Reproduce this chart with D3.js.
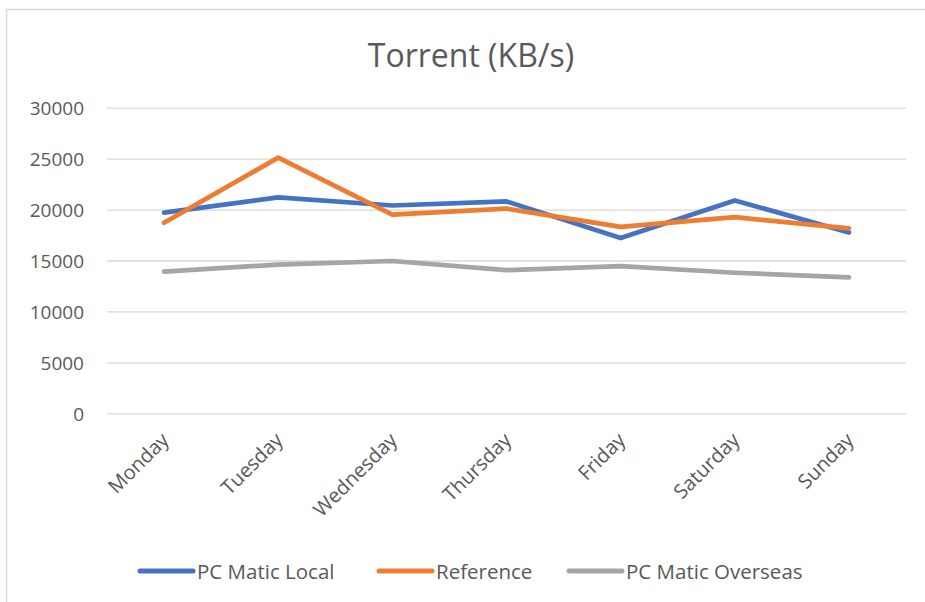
<!DOCTYPE html>
<html>
<head>
<meta charset="utf-8">
<script src="https://cdn.jsdelivr.net/npm/d3@7"></script>
<style>
  body { margin: 0; background: #fff; }
  svg { display: block; font-family: "Open Sans", "Liberation Sans", sans-serif; }
</style>
</head>
<body>
<svg id="chart"></svg>
<script>
const width = 925;
const height = 602;

// data
const days = ['Monday', 'Tuesday', 'Wednesday', 'Thursday', 'Friday', 'Saturday', 'Sunday'];
const pcMaticLocal = [19700, 21200, 20400, 20800, 17200, 20900, 17750];
const reference = [18700, 25100, 19500, 20100, 18300, 19250, 18150];
const pcMaticOverseas = [13900, 14600, 14950, 14050, 14450, 13800, 13350];
const yTicks = [0, 5000, 10000, 15000, 20000, 25000, 30000];

const seriesNames = ['PC Matic Local', 'Reference', 'PC Matic Overseas'];
const seriesColors = ['#4472C4', '#ED7D31', '#A5A5A5'];
const seriesValues = [pcMaticLocal, reference, pcMaticOverseas];

const plot = { left: 107, right: 906, top: 107.7, bottom: 413.3 };
const textColor = '#595959';
const fontStack = '"Open Sans", "Liberation Sans", sans-serif';

const svg = d3.select('#chart')
  .attr('width', width)
  .attr('height', height);

// chart frame (only top and left edge visible)
svg.append('line')
  .attr('x1', 6).attr('x2', width).attr('y1', 9.5).attr('y2', 9.5)
  .attr('stroke', '#d9d9d9').attr('stroke-width', 1.5);
svg.append('line')
  .attr('x1', 6.5).attr('x2', 6.5).attr('y1', 9).attr('y2', height)
  .attr('stroke', '#d9d9d9').attr('stroke-width', 1.5);

const x = d3.scaleBand()
  .domain(days)
  .range([plot.left, plot.right]);

const y = d3.scaleLinear()
  .domain([0, 30000])
  .range([plot.bottom, plot.top]);

// gridlines + y labels
const yAxis = d3.axisLeft(y)
  .tickValues(yTicks)
  .tickSize(-(plot.right - plot.left))
  .tickPadding(23)
  .tickFormat(d3.format('d'));

svg.append('g')
  .attr('transform', `translate(${plot.left},0)`)
  .call(yAxis)
  .attr('font-family', fontStack)
  .call(g => g.select('.domain').remove())
  .call(g => g.selectAll('.tick line').attr('stroke', '#d9d9d9').attr('stroke-width', 1.3))
  .call(g => g.selectAll('.tick text')
    .attr('fill', textColor)
    .attr('dy', '0.36em')
    .style('font-size', '19px'));

// x labels, rotated
const xAxis = d3.axisBottom(x).tickSize(0).tickPadding(0);
svg.append('g')
  .attr('transform', `translate(0,${plot.bottom})`)
  .call(xAxis)
  .attr('font-family', fontStack)
  .call(g => g.select('.domain').remove())
  .call(g => g.selectAll('.tick text')
    .attr('fill', textColor)
    .style('font-size', '20px')
    .attr('text-anchor', 'end')
    .attr('dy', 0)
    .attr('transform', 'translate(6,28) rotate(-45)'));

// lines
const line = d3.line()
  .x((d, i) => x(days[i]) + x.bandwidth() / 2)
  .y(d => y(d));

seriesValues.forEach((vals, k) => {
  svg.append('path')
    .datum(vals)
    .attr('d', line)
    .attr('fill', 'none')
    .attr('stroke', seriesColors[k])
    .attr('stroke-width', 4.7)
    .attr('stroke-linejoin', 'round')
    .attr('stroke-linecap', 'round');
});

// title
svg.append('text')
  .attr('x', 471)
  .attr('y', 67)
  .attr('text-anchor', 'middle')
  .attr('fill', textColor)
  .style('font-size', '32px')
  .text('Torrent (KB/s)');

// legend
const legendX = [140, 379, 569];
const legend = svg.append('g');
seriesNames.forEach((name, k) => {
  legend.append('line')
    .attr('x1', legendX[k]).attr('x2', legendX[k] + 53)
    .attr('y1', 571).attr('y2', 571)
    .attr('stroke', seriesColors[k])
    .attr('stroke-width', 5)
    .attr('stroke-linecap', 'round');
  legend.append('text')
    .attr('x', legendX[k] + 57)
    .attr('y', 578.5)
    .attr('fill', textColor)
    .style('font-size', '20.5px')
    .text(name);
});
</script>
</body>
</html>
